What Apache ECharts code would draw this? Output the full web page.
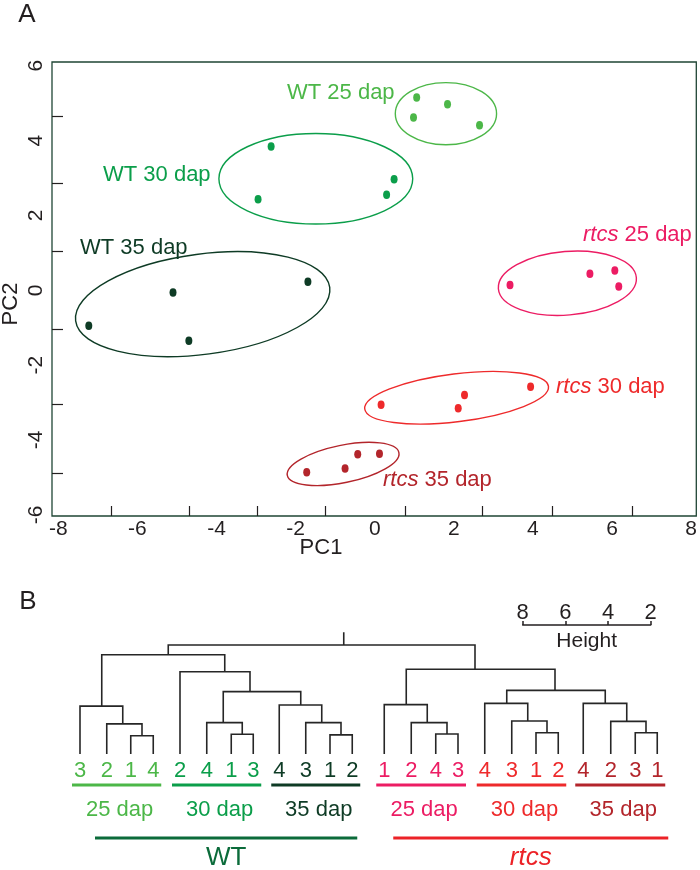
<!DOCTYPE html>
<html><head><meta charset="utf-8">
<script src="https://cdn.jsdelivr.net/npm/echarts@6/dist/echarts.min.js"></script>
<style>html,body{margin:0;padding:0;background:#fff}#c{width:700px;height:870px}</style>
</head><body><div id="c"></div>
<script>
// ---------- Panel A: PCA scores [PC1, PC2] ----------
const wt25   = [[1.06,5.15],[1.84,4.97],[0.98,4.62],[2.65,4.41]];
const wt30   = [[-2.62,3.84],[0.49,2.97],[-2.95,2.43],[0.30,2.55]];
const wt35   = [[-1.69,0.23],[-5.10,-0.06],[-7.23,-0.95],[-4.70,-1.35]];
const rtcs25 = [[3.42,0.14],[5.44,0.44],[6.07,0.53],[6.17,0.10]];
const rtcs30 = [[0.16,-3.06],[2.27,-2.80],[2.11,-3.15],[3.94,-2.58]];
const rtcs35 = [[-1.72,-4.86],[-0.75,-4.76],[-0.43,-4.38],[0.12,-4.37]];
// group ellipses: [centre PC1, centre PC2, semi-axis PC1, semi-axis PC2, tilt (deg)]
const ellipseWT25   = [1.80,4.72,1.28,0.83,0];
const ellipseWT30   = [-1.49,2.98,2.45,1.21,0];
const ellipseWT35   = [-4.35,-0.37,3.24,1.34,7.5];
const ellipseRtcs25 = [4.87,0.19,1.75,0.85,4.6];
const ellipseRtcs30 = [2.07,-2.87,2.34,0.64,7];
const ellipseRtcs35 = [-0.80,-4.64,1.44,0.50,11.6];
const groupGenotype = ['WT','WT','WT','rtcs','rtcs','rtcs'];
const groupStage = ['25 dap','30 dap','35 dap','25 dap','30 dap','35 dap'];
const xTickLabels = [-8,-6,-4,-2,0,2,4,6,8];
const yTickLabels = [-6,-4,-2,0,2,4,6];
const xTickMarks = [-6.65,-4.68,-2.98,-1.24,0.78,2.73,4.49,6.52];
const yTickMarks = [4.66,2.87,1.05,-1.03,-3.04,-4.88];

// ---------- Panel B: dendrogram ----------
const leafLabels = ['3','2','1','4','2','4','1','3','4','3','1','2','1','2','4','3','4','3','1','2','4','2','3','1'];
const leafGroup  = [0,0,0,0,1,1,1,1,2,2,2,2,3,3,3,3,4,4,4,4,5,5,5,5];
const leafPos    = [0,1.07,2.03,2.93,4.0,5.07,6.05,6.93,7.97,9.03,10.0,10.89,12.17,13.25,14.23,15.12,16.19,17.27,18.24,19.13,20.13,21.23,22.21,23.09];
// merges: children are 'L#' (leaf index) or 'N#' (merge index)
const merges = [['L2','L3'],['L1','N0'],['L0','N1'],['L6','L7'],['L5','N3'],['L10','L11'],['L9','N5'],['L8','N6'],['N4','N7'],['L4','N8'],['N2','N9'],
  ['L14','L15'],['L13','N11'],['L12','N12'],['L18','L19'],['L17','N14'],['L16','N15'],['L22','L23'],['L21','N17'],['L20','N18'],['N16','N19'],['N13','N20'],['N10','N21']];
const mergeHeight = [0.86,1.42,2.26,0.93,1.48,0.90,1.48,2.31,2.94,3.88,4.68,0.94,1.48,2.33,1.00,1.56,2.39,1.00,1.54,2.39,3.00,4.00,5.14];
const mergePos    = [2.48,1.71,0.87,6.49,5.73,10.44,9.67,8.83,6.80,5.79,3.53,14.68,13.89,13.05,18.68,17.91,17.07,22.64,21.87,21.01,19.00,15.80,10.55];
const rootTop = 5.74;
const groupLeafSpan = [[0,3],[4,7],[8,11],[12,15],[16,19],[20,23]];
const genotypeNames = ['WT','rtcs'];
const genotypeLeafSpan = [[0,11],[12,23]];
const heightTickValues = [2,4,6,8];

// ---------- styles ----------
const FONT = '"Liberation Sans", Arial, Helvetica, sans-serif';
const TXT = '#231f20';
const groupColors = ['#4cb748','#0b9e4a','#0e3b25','#ec1c63','#ee2a2b','#b3252b'];
const genotypeColors = ['#0b6b3a','#ec2227'];
const genoInset = [[15,5],[9,11]];
const annot = [ // panel A annotation placement (pixels)
  {x:287,y:93},{x:103,y:175},{x:80,y:248},{x:583,y:235},{x:556,y:387},{x:383,y:480}
];

const pcaSets = [wt25,wt30,wt35,rtcs25,rtcs30,rtcs35];
const ellipseSets = [ellipseWT25,ellipseWT30,ellipseWT35,ellipseRtcs25,ellipseRtcs30,ellipseRtcs35];

function groupText(i){ return groupGenotype[i]==='rtcs' ? '{i|rtcs} '+groupStage[i] : groupGenotype[i]+' '+groupStage[i]; }
function richFor(color,size){ return {i:{fontStyle:'italic',fontSize:size,fontFamily:FONT,fill:color,color:color}}; }

function nodeXY(id){ const k=+id.slice(1); return id[0]==='L' ? [leafPos[k],0] : [mergePos[k],mergeHeight[k]]; }
const dendroLines = merges.map((m,i)=>{ const a=nodeXY(m[0]), b=nodeXY(m[1]), h=mergeHeight[i];
  return {coords:[a,[a[0],h],[b[0],h],b]}; });
const last = merges.length-1;
dendroLines.push({coords:[[mergePos[last],mergeHeight[last]],[mergePos[last],rootTop]]});

const series = [];
ellipseSets.forEach((e,i)=>{
  series.push({type:'custom', xAxisIndex:0, yAxisIndex:0, silent:true, data:[e],
    renderItem:(p,api)=>{ const c=api.coord([api.value(0),api.value(1)]); const s=api.size([api.value(2),api.value(3)]);
      return {type:'ellipse', x:c[0], y:c[1], rotation:api.value(4)*Math.PI/180, shape:{cx:0,cy:0,rx:s[0],ry:s[1]},
        style:{fill:'none',stroke:groupColors[i],lineWidth:1.4}}; }});
});
pcaSets.forEach((d,i)=>{
  series.push({type:'scatter', name:groupText(i), xAxisIndex:0, yAxisIndex:0, data:d, symbol:'circle', symbolSize:[7,8.5],
    itemStyle:{color:groupColors[i],opacity:1}});
});
series.push({type:'lines', coordinateSystem:'cartesian2d', xAxisIndex:1, yAxisIndex:1, polyline:true, silent:true,
  data:dendroLines, lineStyle:{color:'#262626',width:1.6,opacity:1}});
// leaf labels
series.push({type:'custom', xAxisIndex:1, yAxisIndex:1, silent:true,
  data:leafPos.map((x,i)=>[x,0,i]),
  renderItem:(p,api)=>{ const i=api.value(2); const c=api.coord([api.value(0),api.value(1)]);
    return {type:'text', x:c[0], y:c[1]+17, style:{text:leafLabels[i], fill:groupColors[leafGroup[i]], fontSize:22, fontFamily:FONT, align:'center', verticalAlign:'middle'}}; }});
series.push({type:'custom', xAxisIndex:1, yAxisIndex:1, silent:true,
  data:groupLeafSpan.map((s,i)=>[leafPos[s[0]],leafPos[s[1]],i]),
  renderItem:(p,api)=>{ const i=api.value(2); const a=api.coord([api.value(0),0]), b=api.coord([api.value(1),0]); const y=a[1]+31;
    return {type:'group', children:[
      {type:'line', shape:{x1:a[0]-8,y1:y,x2:b[0]+8,y2:y}, style:{stroke:groupColors[i],lineWidth:3}},
      {type:'text', x:(a[0]+b[0])/2+3, y:a[1]+56, style:{text:groupStage[i], fill:groupColors[i], fontSize:22, fontFamily:FONT, align:'center', verticalAlign:'middle'}}]}; }});
series.push({type:'custom', xAxisIndex:1, yAxisIndex:1, silent:true,
  data:genotypeLeafSpan.map((s,i)=>[leafPos[s[0]],leafPos[s[1]],i]),
  renderItem:(p,api)=>{ const i=api.value(2); const a=api.coord([api.value(0),0]), b=api.coord([api.value(1),0]); const y=a[1]+84;
    const x1=a[0]+genoInset[i][0], x2=b[0]+genoInset[i][1];
    return {type:'group', children:[
      {type:'line', shape:{x1:x1,y1:y,x2:x2,y2:y}, style:{stroke:genotypeColors[i],lineWidth:3}},
      {type:'text', x:(x1+x2)/2, y:a[1]+104, style:{text:genotypeNames[i], fill:genotypeColors[i], fontSize:26, fontFamily:FONT,
        fontStyle: genotypeNames[i]==='rtcs'?'italic':'normal', align:'center', verticalAlign:'middle'}}]}; }});

const graphic = [
  {type:'text', x:27, y:15, style:{text:'A', fill:TXT, fontSize:26, fontFamily:FONT, align:'center', verticalAlign:'middle'}},
  {type:'text', x:28, y:602, style:{text:'B', fill:TXT, fontSize:26, fontFamily:FONT, align:'center', verticalAlign:'middle'}},
  {type:'text', x:321, y:548, style:{text:'PC1', fill:TXT, fontSize:22, fontFamily:FONT, align:'center', verticalAlign:'middle'}},
  {type:'text', x:11, y:304, rotation:Math.PI/2, style:{text:'PC2', fill:TXT, fontSize:22, fontFamily:FONT, align:'center', verticalAlign:'middle'}}
];
annot.forEach((a,i)=>{
  graphic.push({type:'text', x:a.x, y:a.y, style:{text:groupText(i), fill:groupColors[i], fontSize:22, fontFamily:FONT,
    align:'left', verticalAlign:'middle', rich:richFor(groupColors[i],22)}});
});

const option = {
  animation:false,
  backgroundColor:'#fff',
  graphic:graphic,
  grid:[
    {left:52, top:62, width:645, height:454, show:true, borderColor:'#1f4535', borderWidth:1.3, backgroundColor:'rgba(0,0,0,0)'},
    {left:0, top:626.8, width:700, height:127.2},
    {left:522.7, top:600, width:128, height:25}
  ],
  xAxis:[
    {gridIndex:0, type:'value', min:-8.16, max:8.13, position:'bottom', axisLine:{show:false, onZero:false}, splitLine:{show:false},
      axisTick:{show:true, inside:true, length:10, customValues:xTickMarks, lineStyle:{color:TXT,width:1.2}},
      axisLabel:{customValues:xTickLabels, margin:3, fontSize:21, color:TXT, fontFamily:FONT}},
    {gridIndex:1, type:'value', min:-3.2, max:24.8, show:false},
    {gridIndex:2, type:'value', min:2, max:8, interval:2, inverse:true, position:'bottom',
      axisLine:{show:true, onZero:false, lineStyle:{color:TXT,width:1.5}}, splitLine:{show:false},
      axisTick:{show:true, inside:true, length:4, customValues:heightTickValues, lineStyle:{color:TXT,width:1.5}},
      axisLabel:{inside:true, margin:1, fontSize:22, color:TXT, fontFamily:FONT, customValues:heightTickValues},
      name:'Height', nameLocation:'middle', nameGap:6, nameTextStyle:{fontSize:21, color:TXT, fontFamily:FONT, verticalAlign:'top'}}
  ],
  yAxis:[
    {gridIndex:0, type:'value', min:-6.03, max:6.10, position:'left', axisLine:{show:false, onZero:false}, splitLine:{show:false},
      axisTick:{show:true, inside:true, length:11, customValues:yTickMarks, lineStyle:{color:TXT,width:1.2}},
      axisLabel:{customValues:yTickLabels, rotate:90, margin:5, fontSize:21, color:TXT, fontFamily:FONT}},
    {gridIndex:1, type:'value', min:0, max:6, show:false},
    {gridIndex:2, type:'value', min:0, max:1, show:false}
  ],
  series:series
};
const chart = echarts.init(document.getElementById('c'), null, {renderer:'canvas'});
chart.setOption(option);
</script></body></html>
